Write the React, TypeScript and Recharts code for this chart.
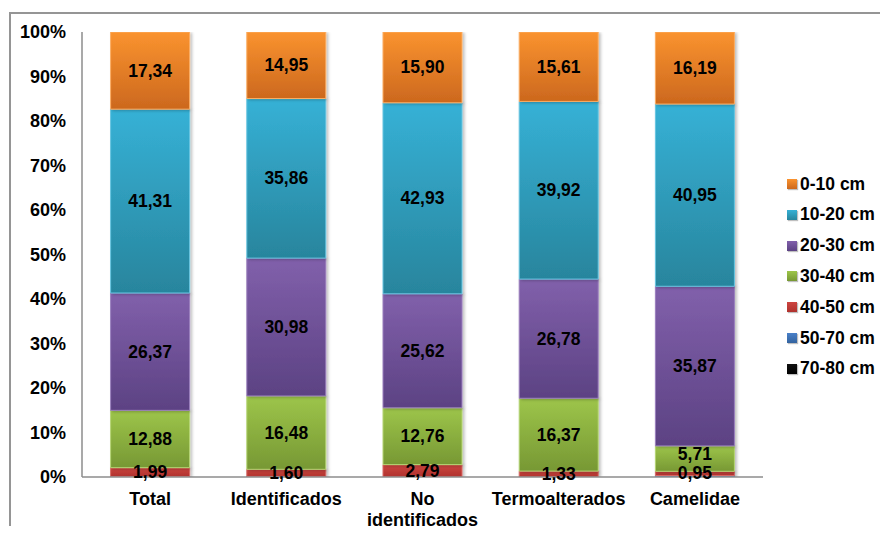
import React from 'react';
import { BarChart, Bar, XAxis, YAxis, LabelList } from 'recharts';

const categories = ['Total', 'Identificados', 'No identificados', 'Termoalterados', 'Camelidae'];

// depth ranges, bottom of the stack first
const seriesNames = ['70-80 cm', '50-70 cm', '40-50 cm', '30-40 cm', '20-30 cm', '10-20 cm', '0-10 cm'];

const s7080 = [0.03, 0.03, 0, 0, 0.07];
const s5070 = [0.08, 0.1, 0, 0, 0.26];
const s4050 = [1.99, 1.6, 2.79, 1.33, 0.95];
const s3040 = [12.88, 16.48, 12.76, 16.37, 5.71];
const s2030 = [26.37, 30.98, 25.62, 26.78, 35.87];
const s1020 = [41.31, 35.86, 42.93, 39.92, 40.95];
const s010 = [17.34, 14.95, 15.9, 15.61, 16.19];

const yTicks = [0, 10, 20, 30, 40, 50, 60, 70, 80, 90, 100];

const seriesValues = [s7080, s5070, s4050, s3040, s2030, s1020, s010];

// top colour, bottom colour, edge colour
const palette: Record<string, [string, string, string]> = {
  '70-80 cm': ['#111111', '#000000', '#333333'],
  '50-70 cm': ['#4a80c8', '#33639f', '#6a96d0'],
  '40-50 cm': ['#cc4540', '#b0322e', '#d86a66'],
  '30-40 cm': ['#9dc54a', '#779834', '#b4d474'],
  '20-30 cm': ['#8160ab', '#5c4283', '#9a7fbd'],
  '10-20 cm': ['#36b1d6', '#28859d', '#66c4e0'],
  '0-10 cm': ['#fa932f', '#cc681e', '#fbad63'],
};
const labelled = ['40-50 cm', '30-40 cm', '20-30 cm', '10-20 cm', '0-10 cm'];

const data = categories.map((name, i) => {
  const row: Record<string, string | number> = { name };
  seriesNames.forEach((s, k) => {
    row[s] = seriesValues[k][i];
  });
  return row;
});

const FONT = 'Liberation Sans, Arial, sans-serif';
const fmt = (v: number) => v.toFixed(2).replace('.', ',');

// value label centred in its segment; thin segments sitting on a thinner one get nudged up
const SegmentLabel = (props: any) => {
  const { x, y, width, height, value, series } = props;
  const shift = series === '30-40 cm' && height < 30 ? -5 : 0;
  return (
    <text
      x={x + width / 2}
      y={y + height / 2 + shift}
      textAnchor='middle'
      dominantBaseline='central'
      fontFamily={FONT}
      fontWeight='bold'
      fontSize={17.5}
      fill='#000'
    >
      {fmt(Number(value))}
    </text>
  );
};

const CategoryTick = (props: any) => {
  const { x, y, payload } = props;
  const lines = String(payload.value).split(' ');
  return (
    <text x={x} y={y + 26} textAnchor='middle' fontFamily={FONT} fontWeight='bold' fontSize={18} fill='#000'>
      {lines.map((l, i) => (
        <tspan key={i} x={x} dy={i === 0 ? 0 : 21}>
          {l}
        </tspan>
      ))}
    </text>
  );
};

export default function App() {
  return (
    <div style={{ position: 'relative', width: 872, height: 518, fontFamily: FONT }}>
      <div
        style={{
          position: 'absolute',
          left: 1,
          top: 4,
          width: 871,
          height: 522,
          borderTop: '2px solid #959595',
          borderLeft: '2px solid #959595',
          boxSizing: 'border-box',
        }}
      />
      <div style={{ position: 'absolute', left: 0, top: 0 }}>
        <BarChart
          width={872}
          height={518}
          data={data}
          margin={{ top: 24, right: 117, bottom: 0, left: 0 }}
          barCategoryGap='21%'
          style={{ overflow: 'visible' }}
        >
          <defs>
            {seriesNames.map((s, k) => (
              <linearGradient key={s} id={`g${k}`} x1='0' y1='0' x2='0' y2='1'>
                <stop offset='0%' stopColor={palette[s][0]} />
                <stop offset='100%' stopColor={palette[s][1]} />
              </linearGradient>
            ))}
            <filter id='shadow' x='-10%' y='-10%' width='130%' height='130%'>
              <feDropShadow dx='2' dy='1' stdDeviation='1.5' floodColor='#000' floodOpacity='0.25' />
            </filter>
          </defs>
          <XAxis
            dataKey='name'
            height={49}
            tickLine={false}
            tickSize={0}
            axisLine={{ stroke: '#8c8c8c', strokeWidth: 1.5 }}
            tick={<CategoryTick />}
            interval={0}
          />
          <YAxis
            type='number'
            width={74}
            domain={[0, 100]}
            allowDataOverflow
            ticks={yTicks}
            tickFormatter={(v) => `${v}%`}
            tickLine={false}
            tickSize={0}
            tickMargin={16}
            axisLine={{ stroke: '#8c8c8c', strokeWidth: 1.5 }}
            tick={{ fill: '#000', fontSize: 18, fontWeight: 'bold', fontFamily: FONT }}
          />
          {seriesNames.map((s, k) => (
            <Bar
              key={s}
              dataKey={s}
              stackId='a'
              fill={`url(#g${k})`}
              stroke={palette[s][2]}
              strokeWidth={1}
              isAnimationActive={false}
              style={{ filter: 'url(#shadow)' }}
            >
              {labelled.includes(s) && (
                <LabelList dataKey={s} content={(p: any) => <SegmentLabel {...p} series={s} />} />
              )}
            </Bar>
          ))}
        </BarChart>
      </div>
      {[...seriesNames].reverse().map((s, i) => (
        <div
          key={s}
          style={{
            position: 'absolute',
            left: 779,
            top: 176 + i * 30.8 - 11,
            height: 22,
            display: 'flex',
            alignItems: 'center',
            fontSize: 17.5,
            fontWeight: 'bold',
            color: '#000',
            whiteSpace: 'nowrap',
          }}
        >
          <span
            style={{
              display: 'inline-block',
              width: 10,
              height: 10,
              marginRight: 3,
              background: `linear-gradient(${palette[s][0]}, ${palette[s][1]})`,
              boxShadow: '1px 1px 1px rgba(0,0,0,0.25)',
            }}
          />
          {s}
        </div>
      ))}
    </div>
  );
}
